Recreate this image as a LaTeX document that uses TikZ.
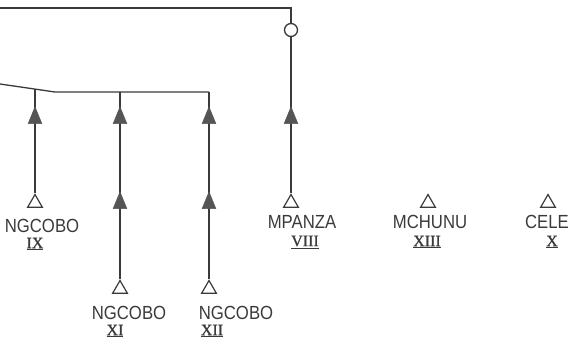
\documentclass[tikz,border=0pt]{standalone}
\usepackage{fontspec}
\setmainfont{Liberation Sans}
\newfontfamily\lblfont[FakeStretch=0.88]{Liberation Sans}
\newfontfamily\numfont[FakeBold=1]{Liberation Serif}
\usetikzlibrary{shapes.geometric}
\definecolor{ink}{HTML}{3A3A3A}
\definecolor{fillink}{HTML}{555555}
\tikzset{
  wire/.style={draw=ink, line width=1.3pt},
  opentri/.style={regular polygon, regular polygon sides=3, minimum size=17pt, inner sep=0pt, draw=ink, line width=1.2pt, fill=white},
  filltri/.style={regular polygon, regular polygon sides=3, minimum size=16pt, inner sep=0pt, draw=fillink, fill=fillink, yscale=1.4},
  ring/.style={circle, minimum size=13pt, inner sep=0pt, draw=ink, line width=1.3pt, fill=white},
  lbl/.style={font=\lblfont\fontsize{19}{19}\selectfont, text=ink, inner sep=0pt},
  numl/.style={font=\numfont\fontsize{16}{16}\selectfont, text=ink, inner sep=0pt}
}
\begin{document}
\begin{tikzpicture}[x=1pt, y=-1pt]
\useasboundingbox (0,0) rectangle (577,349);
% top line and ring
\coordinate (tl) at (0,8);
\coordinate (tr) at (291,8);
\node[ring] (c) at (291,30) {};
\node[opentri] (o8) at (291,203) {};
\draw[wire] (tl) -- (tr) -- (c);
\draw[wire] (c) -- (o8.north);
\node[filltri] (f8) at (291,118) {};
% left sibling bar
\coordinate (l0) at (0,84);
\coordinate (l1) at (55,92);
\coordinate (l2) at (209,92);
\coordinate (j1) at (35,89);
\coordinate (j2) at (120,92);
\draw[wire] (l0) -- (l1) -- (l2);
% column 1
\node[opentri] (o9) at (35,203) {};
\draw[wire] (j1) -- (o9.north);
\node[filltri] (f9) at (35,118) {};
% column 2
\node[opentri] (o11) at (120,289) {};
\draw[wire] (j2) -- (o11.north);
\node[filltri] (f11a) at (120,118) {};
\node[filltri] (f11b) at (120,203) {};
% column 3
\node[opentri] (o12) at (209,289) {};
\draw[wire] (l2) -- (o12.north);
\node[filltri] (f12a) at (209,118) {};
\node[filltri] (f12b) at (209,203) {};
% isolated
\node[opentri] (o13) at (428,203) {};
\node[opentri] (o10) at (548,203) {};
% labels
\node[lbl] (t9) at (42,226) {NGCOBO};
\node[numl] (n9) at (35,244) {\underline{IX}};
\node[lbl] (t11) at (129,313) {NGCOBO};
\node[numl] (n11) at (115,331) {\underline{XI}};
\node[lbl] (t12) at (236,313) {NGCOBO};
\node[numl] (n12) at (212,331) {\underline{XII}};
\node[lbl] (t8) at (302,222) {MPANZA};
\node[numl] (n8) at (305,242) {\underline{VIII}};
\node[lbl] (t13) at (430,222) {MCHUNU};
\node[numl] (n13) at (427,242) {\underline{XIII}};
\node[lbl] (t10) at (547,222) {CELE};
\node[numl] (n10) at (552,242) {\underline{X}};
\end{tikzpicture}
\end{document}
